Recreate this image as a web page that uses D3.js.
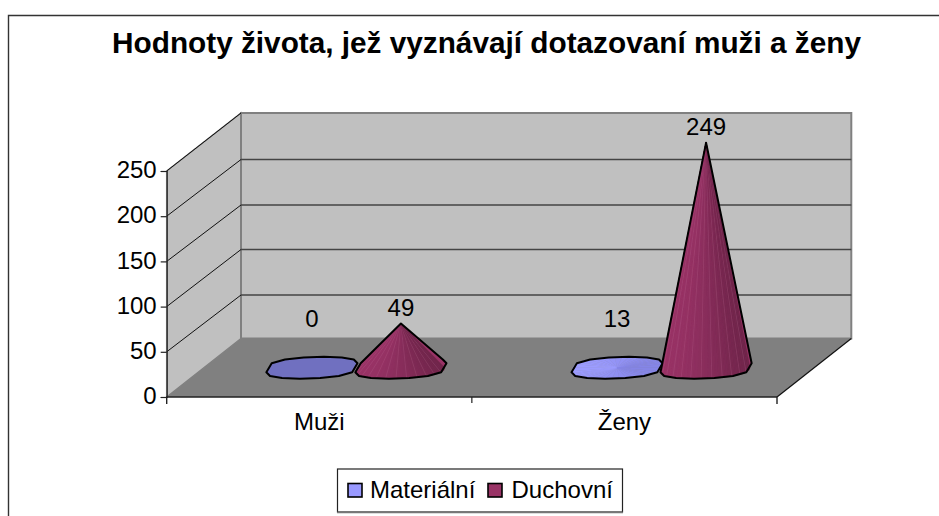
<!DOCTYPE html>
<html><head><meta charset="utf-8">
<script src="https://cdn.jsdelivr.net/npm/d3@7"></script>
<style>
html,body{margin:0;padding:0;background:#fff}
svg{display:block}
text{font-family:"Liberation Sans",Arial,sans-serif;fill:#000}
</style></head><body>
<svg id="c" width="939" height="516"></svg>
<script>
const titleText = "Hodnoty života, jež vyznávají dotazovaní muži a ženy";
const categories = ["Muži", "Ženy"];
const seriesNames = ["Materiální", "Duchovní"];
const materialni = [0, 13];
const duchovni = [49, 249];
const materialniDrawn = [0, 0]; // the reference draws both blue cones flat
const yTicks = [0, 50, 100, 150, 200, 250];
const colors = ["#9999ff", "#993366"];

const svg = d3.select("#c");
const depth = {x: 74.3, y: -58.5};
const fs = "24px";
const x = d3.scaleBand().domain(categories).range([166.7, 777]);
const y = d3.scaleLinear().domain([0, 250]).range([397, 171]);
const yBack = d3.scaleLinear().domain(yTicks).range([338.5, 295, 249.5, 205, 159.5, 113]);
const X0 = x.range()[0], X1 = x.range()[1], Y0 = y(0), YT = y(250);
const line = d3.line();

// frame
svg.append("path").attr("d", "M8.5,516V15.5H939").attr("fill","none").attr("stroke","#333").attr("stroke-width",1.4);

// left wall, back wall, floor
svg.append("path").attr("d", line([[X0,Y0],[X0+depth.x,yBack(0)],[X0+depth.x,yBack(250)],[X0,YT]])+"Z")
  .attr("fill","#c0c0c0").attr("stroke","#808080").attr("stroke-width",1.5);
svg.append("path").attr("d", line([[X0+depth.x,yBack(0)],[X1+depth.x,yBack(0)],[X1+depth.x,yBack(250)],[X0+depth.x,yBack(250)]])+"Z")
  .attr("fill","#c0c0c0").attr("stroke","#808080").attr("stroke-width",2);
svg.append("path").attr("d", line([[X0,Y0],[X1,Y0],[X1+depth.x,yBack(0)],[X0+depth.x,yBack(0)]])+"Z")
  .attr("fill","#808080");

// gridlines
yTicks.slice(1).forEach(t => {
  svg.append("line").attr("x1",X0).attr("y1",y(t)).attr("x2",X0+depth.x).attr("y2",yBack(t))
    .attr("stroke","#111").attr("stroke-width",1);
  if (t < 250) svg.append("line").attr("x1",X0+depth.x).attr("y1",yBack(t)).attr("x2",X1+depth.x).attr("y2",yBack(t))
    .attr("stroke","#444").attr("stroke-width",1.4);
});
// floor edge
svg.append("line").attr("x1",X1).attr("y1",Y0).attr("x2",X1+depth.x).attr("y2",yBack(0)).attr("stroke","#111").attr("stroke-width",1.2);

// axes
const gy = svg.append("g").attr("transform",`translate(${X0},0)`)
  .call(d3.axisLeft(y).tickValues(yTicks).tickSize(6).tickPadding(4).tickFormat(d3.format("d")));
gy.selectAll("text").style("font-size",fs).attr("fill","#000").attr("y",-1);
gy.selectAll("line,path").attr("stroke","#222").attr("stroke-width",1.2);
const gx = svg.append("g").attr("transform",`translate(0,${Y0})`)
  .call(d3.axisBottom(x).tickSize(0).tickPadding(16));
gx.selectAll(".tick text").style("font-size",fs).attr("fill","#000");
gx.select("path").attr("d",`M${X0},7V0H${X1}V7`).attr("fill","none").attr("stroke","#222").attr("stroke-width",1.4);
gx.append("line").attr("x1",x(categories[1])).attr("x2",x(categories[1])).attr("y1",0).attr("y2",6).attr("stroke","#222").attr("stroke-width",1.2);

// cones
const seriesOffset = 44.5, nBase = 14, nFan = 40;
const rx = 44, ry = 11, skew = 12;
function basePt(cx, cy, a){
  const s = Math.sin(a), sq = Math.sign(s)*Math.pow(Math.abs(s),0.6);
  return [cx + rx*Math.cos(a) + skew*s, cy - ry*sq];
}
function shade(base, a){
  const t = Math.pow((Math.cos(a)+1)/2, 2);
  const c = d3.color(base), k = 1-0.27*t;
  return d3.rgb(c.r*k, c.g*k, c.b*k).formatHex();
}
function cone(cat, sIdx, drawn, label, color, flat){
  const cx = x(cat)+x.bandwidth()/2 + (sIdx===0?-seriesOffset:seriesOffset) + depth.x/2;
  const cy = Y0 + depth.y/2;
  const h = y(0)-y(drawn);
  const apex = [cx, cy-h];
  const g = svg.append("g");
  const outline = d3.range(nBase).map(i => basePt(cx,cy,i/nBase*2*Math.PI + Math.PI/nBase));
  if (h > 0){
    const hull = d3.polygonHull(outline.concat([apex]));
    g.append("path").attr("d",line(hull)+"Z").attr("fill",color);
    d3.range(nFan).forEach(i=>{
      const a0 = Math.PI + i/nFan*Math.PI, a1 = Math.PI + (i+1)/nFan*Math.PI;
      const f = shade(color,(a0+a1)/2);
      g.append("path").attr("d",line([apex,basePt(cx,cy,a0),basePt(cx,cy,a1)])+"Z")
        .attr("fill",f).attr("stroke",f).attr("stroke-width",0.4);
      if (i%3===1) g.append("line").attr("x1",apex[0]).attr("y1",apex[1]).attr("x2",basePt(cx,cy,a0)[0]).attr("y2",basePt(cx,cy,a0)[1])
        .attr("stroke","#d48ab0").attr("stroke-width",0.5).attr("opacity",0.3);
    });
    g.append("path").attr("d",line(hull)+"Z").attr("fill","none").attr("stroke","#000")
      .attr("stroke-width",2).attr("stroke-linejoin","round");
  } else {
    if (flat) {
      g.append("path").attr("d",line(outline)+"Z").attr("fill",flat);
    } else {
      d3.range(nFan).forEach(i=>{
        const a0 = i/nFan*2*Math.PI, a1 = (i+1)/nFan*2*Math.PI;
        const f = d3.interpolateRgb("#9c9cff","#8585e6")((Math.cos(a0)+1)/2);
        g.append("path").attr("d",line([[cx,cy],basePt(cx,cy,a0),basePt(cx,cy,a1)])+"Z")
          .attr("fill",f).attr("stroke",f).attr("stroke-width",0.4);
      });
    }
    g.append("path").attr("d",line(outline)+"Z").attr("fill","none")
      .attr("stroke","#000").attr("stroke-width",2).attr("stroke-linejoin","round");
  }
  const labelY = h>0 ? apex[1]-7.5 : cy-41;
  svg.append("text").attr("x",cx).attr("y",labelY).attr("text-anchor","middle").style("font-size",fs).text(label);
}
// blue cones first so that the red ones overlap them
categories.forEach((cat,i)=>cone(cat,0,materialniDrawn[i],materialni[i],colors[0],i===0?"#7070c0":null));
categories.forEach((cat,i)=>cone(cat,1,duchovni[i],duchovni[i],colors[1],null));

// title
svg.append("text").attr("x",486.5).attr("y",53).attr("text-anchor","middle")
  .style("font-size","29.75px").style("font-weight","bold").text(titleText);

// legend
const lg = svg.append("g");
lg.append("rect").attr("x",337.5).attr("y",469).attr("width",285).attr("height",43)
  .attr("fill","#fff").attr("stroke","#222").attr("stroke-width",1.2);
lg.append("line").attr("x1",337).attr("x2",623).attr("y1",512.5).attr("y2",512.5).attr("stroke","#777").attr("stroke-width",1.6);
const legendX = [348, 488], legendTextX = [370, 511.5];
seriesNames.forEach((n,i)=>{
  lg.append("rect").attr("x",legendX[i]).attr("y",483.5).attr("width",14).attr("height",13.5)
    .attr("fill",colors[i]).attr("stroke","#000").attr("stroke-width",1.6);
  lg.append("text").attr("x",legendTextX[i]).attr("y",498).style("font-size",fs).text(n);
});
</script></body></html>
